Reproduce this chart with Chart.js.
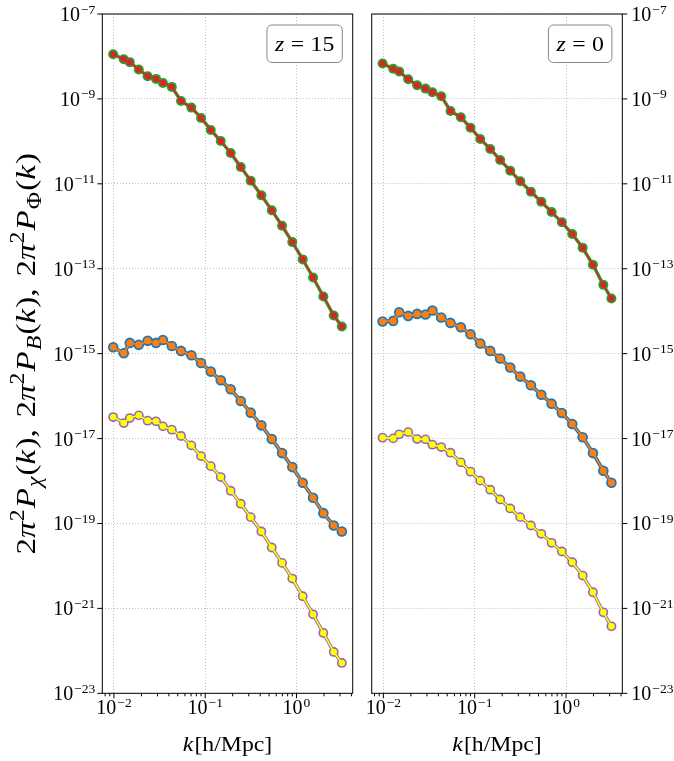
<!DOCTYPE html>
<html lang="en">
<head>
<meta charset="UTF-8">
<title>Power spectra at z = 15 and z = 0</title>
<script src="https://cdn.jsdelivr.net/npm/chart.js@4.4.0/dist/chart.umd.min.js"></script>
<style>
  body { margin: 0; background: #fff; }
  #wrap { position: relative; width: 674px; height: 761px; overflow: hidden; }
  canvas { position: absolute; top: 0; }
  #left { left: 0; }
  #right { left: 362px; }
</style>
</head>
<body>
<div id="wrap">
  <canvas id="left" width="362" height="761"></canvas>
  <canvas id="right" width="312" height="761"></canvas>
</div>
<script>
// wavenumbers k [h/Mpc]
const kValues = [0.0098, 0.0128, 0.0149, 0.0187, 0.0234, 0.0289, 0.0344, 0.043, 0.0543, 0.0705,
  0.090, 0.115, 0.148, 0.19, 0.245, 0.315, 0.412, 0.536, 0.695, 0.90, 1.17, 1.52, 1.97, 2.56, 3.14];

// z = 15
const phiZ15 = [1.13e-8, 8.63e-9, 7.35e-9, 4.92e-9, 3.43e-9, 2.96e-9, 2.38e-9, 1.92e-9, 8.97e-10, 6.24e-10,
  3.56e-10, 1.86e-10, 1.02e-10, 5.32e-11, 2.49e-11, 1.18e-11, 5.35e-12, 2.37e-12, 1.03e-12, 4.24e-13,
  1.66e-13, 6.22e-14, 2.22e-14, 7.93e-15, 4.36e-15];
const bZ15 = [1.42e-15, 1.02e-15, 1.79e-15, 1.61e-15, 2.0e-15, 1.79e-15, 2.10e-15, 1.52e-15, 1.16e-15, 9.16e-16,
  6.04e-16, 3.78e-16, 2.36e-16, 1.45e-16, 7.67e-17, 4.08e-17, 2.05e-17, 9.73e-18, 4.55e-18, 2.13e-18,
  9.12e-19, 4.04e-19, 1.75e-19, 8.97e-20, 6.47e-20];
const chiZ15 = [3.21e-17, 2.32e-17, 3.04e-17, 3.52e-17, 2.64e-17, 2.55e-17, 1.94e-17, 1.62e-17, 1.15e-17, 6.92e-18,
  3.86e-18, 2.24e-18, 1.24e-18, 5.90e-19, 2.92e-19, 1.41e-19, 6.47e-20, 2.72e-20, 1.18e-20, 5.05e-21,
  1.93e-21, 7.26e-22, 2.64e-22, 9.42e-23, 5.19e-23];

// z = 0
const phiZ0 = [6.81e-9, 5.11e-9, 4.41e-9, 2.91e-9, 2.10e-9, 1.75e-9, 1.44e-9, 1.16e-9, 5.21e-10, 3.70e-10,
  2.10e-10, 1.14e-10, 6.62e-11, 3.64e-11, 2.04e-11, 1.15e-11, 6.52e-12, 3.78e-12, 2.16e-12, 1.24e-12,
  6.55e-13, 3.11e-13, 1.24e-13, 4.17e-14, 1.99e-14];
const bZ0 = [5.71e-15, 5.90e-15, 9.46e-15, 7.74e-15, 8.63e-15, 8.36e-15, 1.04e-14, 7.10e-15, 5.30e-15, 4.20e-15,
  2.87e-15, 1.73e-15, 1.16e-15, 7.66e-16, 4.70e-16, 2.88e-16, 1.80e-16, 1.08e-16, 6.65e-17, 3.99e-17,
  2.20e-17, 1.07e-17, 4.55e-18, 1.75e-18, 9.12e-19];
const chiZ0 = [1.05e-17, 1.01e-17, 1.26e-17, 1.42e-17, 9.73e-18, 9.57e-18, 7.18e-18, 6.31e-18, 4.65e-18, 2.75e-18,
  1.66e-18, 1.02e-18, 6.24e-19, 3.68e-19, 2.26e-19, 1.41e-19, 8.97e-20, 5.71e-20, 3.51e-20, 2.19e-20,
  1.22e-20, 5.94e-21, 2.40e-21, 8.09e-22, 3.78e-22];

const zLabels = ['15', '0'];

// axis ticks
const xMajor = [0.01, 0.1, 1];
const xMinor = [0.008, 0.009, 0.02, 0.03, 0.04, 0.05, 0.06, 0.07, 0.08, 0.09,
  0.2, 0.3, 0.4, 0.5, 0.6, 0.7, 0.8, 0.9, 2, 3, 4];
const yMajor = [1e-23, 1e-21, 1e-19, 1e-17, 1e-15, 1e-13, 1e-11, 1e-9, 1e-7];
const xMin = 0.00745, xMax = 4.13;
const yMin = 1e-23, yMax = 1e-7;

const SERIF = '"Liberation Serif", serif';
const TOP = 14, BOTTOM = 67.7;

function series(vals, color, radius, width, order) {
  return {
    data: kValues.map((k, i) => ({ x: k, y: vals[i] })),
    borderColor: color,
    backgroundColor: color,
    pointBackgroundColor: color,
    pointBorderWidth: 0,
    pointRadius: radius,
    pointHoverRadius: radius,
    borderWidth: width,
    tension: 0,
    order: order
  };
}

function datasets(phi, b, chi) {
  return [
    series(phi, '#2ca02c', 5, 3.4, 6),
    series(phi, '#d62728', 3.2, 1.5, 5),
    series(b, '#1f77b4', 5.3, 3.8, 4),
    series(b, '#ff7f0e', 3.5, 1.6, 3),
    series(chi, '#9467bd', 4.9, 3.4, 2),
    series(chi, '#ffff00', 3.3, 1.6, 1)
  ];
}

// "10" with a raised exponent
function drawPower(ctx, value, x, y, align) {
  const exp = Math.round(Math.log10(value));
  const base = '10';
  const sup = (exp < 0 ? '\u2212' : '') + Math.abs(exp);
  ctx.font = '20px ' + SERIF;
  const wb = ctx.measureText(base).width;
  ctx.font = '13.5px ' + SERIF;
  const ws = ctx.measureText(sup).width;
  const total = wb + 1 + ws;
  let x0 = x;
  if (align === 'center') x0 = x - total / 2;
  if (align === 'right') x0 = x - total;
  ctx.textAlign = 'left';
  ctx.textBaseline = 'alphabetic';
  ctx.font = '20px ' + SERIF;
  ctx.fillText(base, x0, y);
  ctx.font = '13.5px ' + SERIF;
  ctx.fillText(sup, x0 + wb + 1, y - 7.5);
}

// pieces: [text, style, gapAfter] ; style n=normal, i=italic, sup, sub, subi
function pieceFont(style, size) {
  const small = Math.round(size * 0.7);
  if (style === 'i') return 'italic ' + size + 'px ' + SERIF;
  if (style === 'sup' || style === 'sub') return small + 'px ' + SERIF;
  if (style === 'subi') return 'italic ' + small + 'px ' + SERIF;
  return size + 'px ' + SERIF;
}
function richWidth(ctx, pieces, size) {
  let w = 0;
  pieces.forEach(p => { ctx.font = pieceFont(p[1], size); w += ctx.measureText(p[0]).width + (p[2] || 0); });
  return w;
}
function drawRich(ctx, pieces, x, y, size) {
  let cx = x;
  ctx.textAlign = 'left';
  ctx.textBaseline = 'alphabetic';
  pieces.forEach(p => {
    ctx.font = pieceFont(p[1], size);
    let dy = 0;
    if (p[1] === 'sup') dy = -size * 0.4;
    if (p[1] === 'sub' || p[1] === 'subi') dy = size * 0.22;
    ctx.fillText(p[0], cx, y + dy);
    cx += ctx.measureText(p[0]).width + (p[2] || 0);
  });
}

const yTitle = [
  ['2', 'n'], ['\u03c0', 'i'], ['2', 'sup', 1], ['P', 'i', 1], ['\u03c7', 'subi', 1], ['(', 'n'], ['k', 'i', 1], ['),', 'n', 10],
  ['2', 'n'], ['\u03c0', 'i'], ['2', 'sup', 1], ['P', 'i', 1], ['B', 'subi', 1], ['(', 'n'], ['k', 'i', 1], ['),', 'n', 10],
  ['2', 'n'], ['\u03c0', 'i'], ['2', 'sup', 1], ['P', 'i', 1], ['\u03a6', 'sub', 1], ['(', 'n'], ['k', 'i', 1], [')', 'n']
];
const xTitle = [['k', 'i', 1], ['[h/Mpc]', 'n']];

const decor = {
  id: 'decor',
  afterDraw(chart, args, opts) {
    const { ctx, chartArea: a, scales: { x, y } } = chart;
    ctx.save();
    ctx.fillStyle = '#000';
    ctx.strokeStyle = '#000';
    ctx.lineWidth = 1;

    // x ticks
    ctx.beginPath();
    xMajor.forEach(v => { const px = x.getPixelForValue(v); ctx.moveTo(px, a.bottom); ctx.lineTo(px, a.bottom + 5); });
    xMinor.forEach(v => { const px = x.getPixelForValue(v); ctx.moveTo(px, a.bottom); ctx.lineTo(px, a.bottom + 3); });
    // y ticks
    const side = opts.ySide;
    yMajor.forEach(v => {
      const py = y.getPixelForValue(v);
      if (side === 'left') { ctx.moveTo(a.left, py); ctx.lineTo(a.left - 5, py); }
      else { ctx.moveTo(a.right, py); ctx.lineTo(a.right + 5, py); }
    });
    ctx.stroke();

    // frame
    ctx.strokeRect(a.left, a.top, a.right - a.left, a.bottom - a.top);

    // tick labels
    xMajor.forEach(v => drawPower(ctx, v, x.getPixelForValue(v), a.bottom + 21, 'center'));
    yMajor.forEach(v => {
      const py = y.getPixelForValue(v) + 7;
      if (side === 'left') drawPower(ctx, v, a.left - 7, py, 'right');
      else drawPower(ctx, v, a.right + 9, py, 'left');
    });

    // x title
    const xs = 1.08;
    const tw = richWidth(ctx, xTitle, 22) * xs;
    ctx.save();
    ctx.translate((a.left + a.right) / 2 - tw / 2, 751);
    ctx.scale(xs, 1);
    drawRich(ctx, xTitle, 0, 0, 22);
    ctx.restore();

    // y title
    if (opts.yTitle) {
      const ys = 1.18;
      const w = richWidth(ctx, yTitle, 28) * ys;
      ctx.save();
      ctx.translate(35, (a.top + a.bottom) / 2);
      ctx.rotate(-Math.PI / 2);
      ctx.translate(-w / 2, 0);
      ctx.scale(ys, 1);
      drawRich(ctx, yTitle, 0, 0, 28);
      ctx.restore();
    }

    // redshift box
    const zText = [['z', 'i', 6], ['=', 'n', 6], [opts.z, 'n']];
    const zw = richWidth(ctx, zText, 22) * 1.08;
    const bw = zw + 16, bh = 37.5;
    const bx = a.right - 10.4 - bw, by = a.top + 11;
    ctx.fillStyle = '#fff';
    ctx.strokeStyle = '#888';
    ctx.lineWidth = 1;
    ctx.beginPath();
    ctx.roundRect(bx, by, bw, bh, 5);
    ctx.fill();
    ctx.stroke();
    ctx.fillStyle = '#000';
    ctx.save();
    ctx.translate(bx + 8, by + bh / 2 + 7.5);
    ctx.scale(1.08, 1);
    drawRich(ctx, zText, 0, 0, 22);
    ctx.restore();
    ctx.restore();
  }
};

function makeChart(id, phi, b, chi, z, side) {
  const width = side === 'left' ? 362 : 312;
  const plotLeft = side === 'left' ? 102.3 : 9.7;
  const plotRight = side === 'left' ? 352.7 : 260.3;
  return new Chart(document.getElementById(id), {
    type: 'line',
    data: { datasets: datasets(phi, b, chi) },
    plugins: [decor],
    options: {
      responsive: false,
      animation: false,
      events: [],
      layout: {
        padding: side === 'left'
          ? { top: TOP, right: width - plotRight, left: 0, bottom: 0 }
          : { top: TOP, left: plotLeft, right: 0, bottom: 0 }
      },
      plugins: {
        legend: { display: false },
        tooltip: { enabled: false },
        decor: { ySide: side, yTitle: side === 'left', z: z }
      },
      scales: {
        x: {
          type: 'logarithmic',
          min: xMin,
          max: xMax,
          afterBuildTicks: s => { s.ticks = xMajor.map(v => ({ value: v })); },
          afterFit: s => { s.height = BOTTOM; },
          ticks: { display: false },
          grid: { color: '#b0b0b0', lineWidth: 0.8, drawTicks: false },
          border: { display: false, dash: [1, 2] }
        },
        y: {
          type: 'logarithmic',
          position: side,
          min: yMin,
          max: yMax,
          afterBuildTicks: s => { s.ticks = yMajor.map(v => ({ value: v })); },
          afterFit: s => { s.width = side === 'left' ? plotLeft : width - plotRight; },
          ticks: { display: false },
          grid: { color: '#b0b0b0', lineWidth: 0.8, drawTicks: false },
          border: { display: false, dash: [1, 2] }
        }
      }
    }
  });
}

makeChart('left', phiZ15, bZ15, chiZ15, zLabels[0], 'left');
makeChart('right', phiZ0, bZ0, chiZ0, zLabels[1], 'right');
</script>
</body>
</html>
